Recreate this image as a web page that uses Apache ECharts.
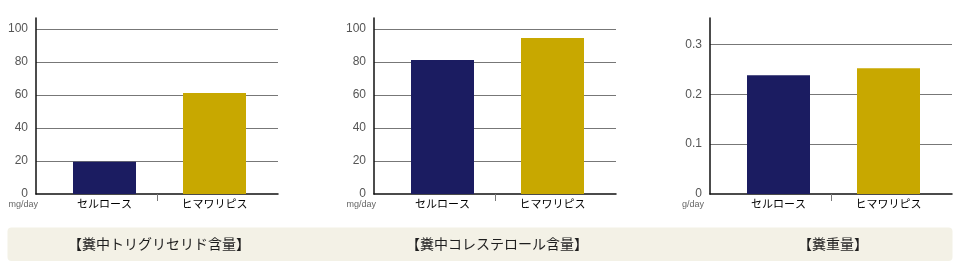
<!DOCTYPE html>
<html>
<head>
<meta charset="utf-8">
<script src="https://cdn.jsdelivr.net/npm/echarts@6/dist/echarts.min.js"></script>
<style>
html,body{margin:0;padding:0;background:#fff;}
#c{width:960px;height:270px;}
</style>
</head>
<body>
<div id="c"></div>
<script>
// ---- data ----
const categories = ['セルロース', 'ヒマワリピス'];
const triglyceride = [19.5, 61.3];
const cholesterol = [81.2, 94.5];
const fecalWeight = [0.238, 0.252];
const titles = ['【糞中トリグリセリド含量】', '【糞中コレステロール含量】', '【糞重量】'];
const units = ['mg/day', 'mg/day', 'g/day'];
const yTicks1 = [0, 20, 40, 60, 80, 100];
const yTicks2 = [0, 20, 40, 60, 80, 100];
const yTicks3 = [0, 0.1, 0.2, 0.3];

const barColors = ['#1b1c61', '#c8a800'];
const seriesData = [triglyceride, cholesterol, fecalWeight];
const yMax = [106.7, 106.7, 0.3527];
const yInterval = [20, 20, 0.1];
const yTickSets = [yTicks1, yTicks2, yTicks3];

const axisLefts = [36, 374, 710];
const axisWidth = 242;
const barOffset = 13.5;
const barAreaWidth = 220;
const gridTop = 18, gridBottom = 76;

const chart = echarts.init(document.getElementById('c'));
const grid = [], xAxis = [], yAxis = [], series = [], title = [];

for (let i = 0; i < 3; i++) {
  const ticks = yTickSets[i];
  // axis grid (frame, split lines, divider tick)
  grid.push({left: axisLefts[i], top: gridTop, width: axisWidth, bottom: gridBottom, containLabel: false});
  // bar grid
  grid.push({left: axisLefts[i] + barOffset, top: gridTop, width: barAreaWidth, bottom: gridBottom, containLabel: false});
  const ga = 2 * i, gb = 2 * i + 1;
  xAxis.push({
    gridIndex: ga, type: 'value', min: 0, max: 2,
    axisLine: {show: true, lineStyle: {color: '#111', width: 1.5}},
    axisTick: {show: true, customValues: [1], length: 7, lineStyle: {color: '#777', width: 1}},
    axisLabel: {show: false}, splitLine: {show: false}
  });
  xAxis.push({
    gridIndex: gb, type: 'category', data: categories,
    axisLine: {show: false}, axisTick: {show: false},
    axisLabel: {show: true, margin: 4, color: '#000', fontSize: 11,
      fontFamily: '"Noto Sans CJK JP", sans-serif'}
  });
  yAxis.push({
    gridIndex: ga, type: 'value', min: 0, max: yMax[i], interval: yInterval[i],
    name: units[i], nameLocation: 'start', nameGap: 5,
    nameTextStyle: {color: '#666', fontSize: 9, fontFamily: '"Liberation Sans", sans-serif',
      align: 'right', verticalAlign: 'top', padding: [0, i === 2 ? 6 : -2, 0, 0]},
    axisLine: {show: true, lineStyle: {color: '#111', width: 1.5}},
    axisTick: {show: false},
    axisLabel: {
      show: true, margin: 8, color: '#555', fontSize: 12,
      fontFamily: '"Liberation Sans", sans-serif',
      formatter: function (v) {
        for (const t of ticks) { if (Math.abs(t - v) < 1e-9) return String(t); }
        return '';
      }
    },
    splitLine: {show: true, showMinLine: false, showMaxLine: false, lineStyle: {color: '#777', width: 1}}
  });
  yAxis.push({
    gridIndex: gb, type: 'value', min: 0, max: yMax[i],
    show: false, splitLine: {show: false}
  });
  series.push({
    type: 'bar', xAxisIndex: gb, yAxisIndex: gb, barWidth: 63,
    data: seriesData[i].map((v, k) => ({value: v, itemStyle: {color: barColors[k]}})),
    silent: true, animation: false
  });
  title.push({
    text: titles[i], left: axisLefts[i] + axisWidth / 2 + 2, top: 237, padding: 0, textAlign: 'center',
    textStyle: {fontSize: 14, fontWeight: 'normal', color: '#1e1e1e',
      fontFamily: '"Noto Sans CJK JP", sans-serif'}
  });
}

chart.setOption({
  animation: false,
  grid: grid, xAxis: xAxis, yAxis: yAxis, series: series, title: title,
  graphic: [{
    type: 'rect', z: -10, silent: true,
    shape: {x: 7.5, y: 227.5, width: 945, height: 33.5, r: 4},
    style: {fill: '#f3f1e6'}
  }]
});
</script>
</body>
</html>
